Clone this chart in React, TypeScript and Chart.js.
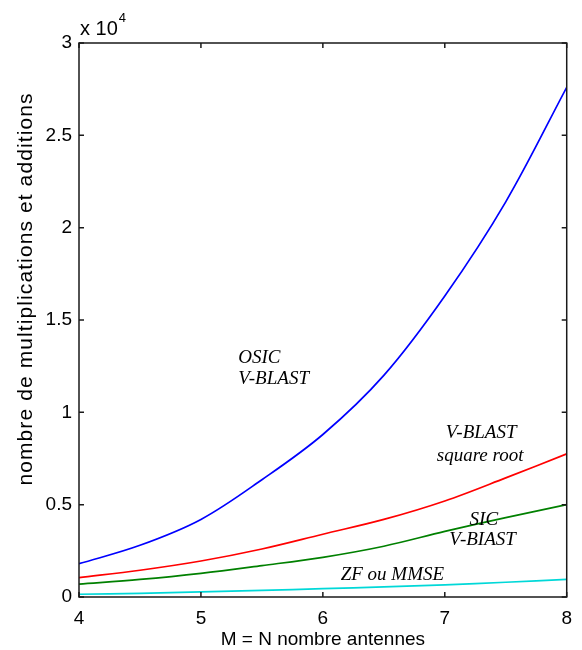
import { useEffect, useRef } from "react";
import { Chart, registerables } from "chart.js";

Chart.register(...registerables);

// M = N (number of antennas)
const antennas = [4, 4.5, 5, 5.5, 6, 6.5, 7, 7.5, 8];
// number of multiplications and additions
const osicVblast = [1800, 2800, 4200, 6350, 8800, 12000, 16300, 21400, 27600];
const vblastSquareRoot = [1050, 1450, 1950, 2600, 3400, 4200, 5200, 6450, 7750];
const sicVblast = [700, 950, 1280, 1700, 2150, 2750, 3550, 4300, 5000];
const zfMmse = [150, 200, 280, 360, 450, 550, 660, 800, 950];

const xTickValues = [4, 5, 6, 7, 8];
const yTickValues = [0, 5000, 10000, 15000, 20000, 25000, 30000];

const seriesNames = ["OSIC V-BLAST", "V-BLAST square root", "SIC V-BlAST", "ZF ou MMSE"];
const seriesColors = ["#0000FF", "#FF0000", "#008000", "#00D8D8"];

// in-plot labels (data coordinates)
const labelTexts = ["OSIC", "V-BLAST", "V-BLAST", "square root", "SIC", "V-BIAST", "ZF ou MMSE"];
const labelX = [5.306, 5.306, 7.298, 7.29, 7.32, 7.31, 6.57];
const labelY = [12670, 11530, 8610, 7360, 3900, 2820, 920];
const labelAlign: CanvasTextAlign[] = ["left", "left", "center", "center", "center", "center", "center"];

const yTitle = "nombre de multiplications et additions";
const xTitle = "M = N nombre antennes";

const SANS = "'Liberation Sans', Arial, sans-serif";
const SERIF = "'Liberation Serif', 'Times New Roman', serif";

const decorPlugin = {
  id: "decor",
  afterDraw(chart: any) {
    const { ctx, chartArea } = chart;
    const xs = chart.scales.x;
    const ys = chart.scales.y;
    const { left, right, top, bottom } = chartArea;
    ctx.save();
    // box
    ctx.strokeStyle = "#1a1a1a";
    ctx.lineWidth = 1.5;
    ctx.strokeRect(left, top, right - left, bottom - top);
    // inward ticks
    ctx.beginPath();
    xTickValues.forEach((v) => {
      const px = xs.getPixelForValue(v);
      ctx.moveTo(px, bottom);
      ctx.lineTo(px, bottom - 5);
      ctx.moveTo(px, top);
      ctx.lineTo(px, top + 5);
    });
    yTickValues.forEach((v) => {
      const py = ys.getPixelForValue(v);
      ctx.moveTo(left, py);
      ctx.lineTo(left + 5, py);
      ctx.moveTo(right, py);
      ctx.lineTo(right - 5, py);
    });
    ctx.stroke();

    // exponent label
    ctx.fillStyle = "#000";
    ctx.textAlign = "left";
    ctx.textBaseline = "alphabetic";
    ctx.font = `20px ${SANS}`;
    ctx.fillText("x 10", left + 1, top - 8);
    const w = ctx.measureText("x 10").width;
    ctx.font = `13px ${SANS}`;
    ctx.fillText("4", left + 1 + w + 1, top - 21);

    // y title
    ctx.save();
    ctx.font = `21px ${SANS}`;
    try {
      (ctx as any).letterSpacing = "1.1px";
    } catch (e) {}
    ctx.translate(32, 289);
    ctx.rotate(-Math.PI / 2);
    ctx.textAlign = "center";
    ctx.fillText(yTitle, 0, 0);
    ctx.restore();

    // in-plot labels
    ctx.font = `italic 19px ${SERIF}`;
    ctx.fillStyle = "#000";
    labelTexts.forEach((t, i) => {
      ctx.textAlign = labelAlign[i];
      ctx.fillText(t, xs.getPixelForValue(labelX[i]), ys.getPixelForValue(labelY[i]));
    });
    ctx.restore();
  },
};

export default function App() {
  const canvasRef = useRef<HTMLCanvasElement | null>(null);

  useEffect(() => {
    document.body.style.margin = "0";
    const canvas = canvasRef.current;
    if (!canvas) return;
    const seriesValues = [osicVblast, vblastSquareRoot, sicVblast, zfMmse];
    const chart = new Chart(canvas, {
      type: "line",
      data: {
        datasets: seriesValues.map((vals, i) => ({
          label: seriesNames[i],
          data: antennas.map((m, j) => ({ x: m, y: vals[j] })),
          borderColor: seriesColors[i],
          backgroundColor: seriesColors[i],
          borderWidth: 1.7,
          pointRadius: 0,
          tension: 0.35,
          fill: false,
        })),
      },
      options: {
        animation: false,
        responsive: false,
        maintainAspectRatio: false,
        layout: { padding: { top: 43, right: 13, left: 0, bottom: 0 } },
        plugins: {
          legend: { display: false },
          tooltip: { enabled: false },
        },
        scales: {
          x: {
            type: "linear",
            min: 4,
            max: 8,
            afterFit: (s: any) => {
              s.height = 53;
            },
            afterBuildTicks: (s: any) => {
              s.ticks = xTickValues.map((v) => ({ value: v }));
            },
            grid: { display: false, drawTicks: false },
            border: { display: false },
            ticks: {
              padding: 10,
              color: "#000",
              font: { family: SANS, size: 19 },
              maxRotation: 0,
              callback: (v: any) => String(v),
            },
            title: {
              display: true,
              text: xTitle,
              color: "#000",
              font: { family: SANS, size: 19 },
              padding: { top: 0, bottom: -1 },
            },
          },
          y: {
            type: "linear",
            min: 0,
            max: 30000,
            afterFit: (s: any) => {
              s.width = 79;
            },
            afterBuildTicks: (s: any) => {
              s.ticks = yTickValues.map((v) => ({ value: v }));
            },
            grid: { display: false, drawTicks: false },
            border: { display: false },
            ticks: {
              padding: 7,
              color: "#000",
              font: { family: SANS, size: 19 },
              callback: (v: any) => String(Number(v) / 10000),
            },
          },
        },
      },
      plugins: [decorPlugin],
    });
    return () => chart.destroy();
  }, []);

  return (
    <div style={{ width: 582, height: 650 }}>
      <canvas ref={canvasRef} width={582} height={650} style={{ display: "block" }} />
    </div>
  );
}
